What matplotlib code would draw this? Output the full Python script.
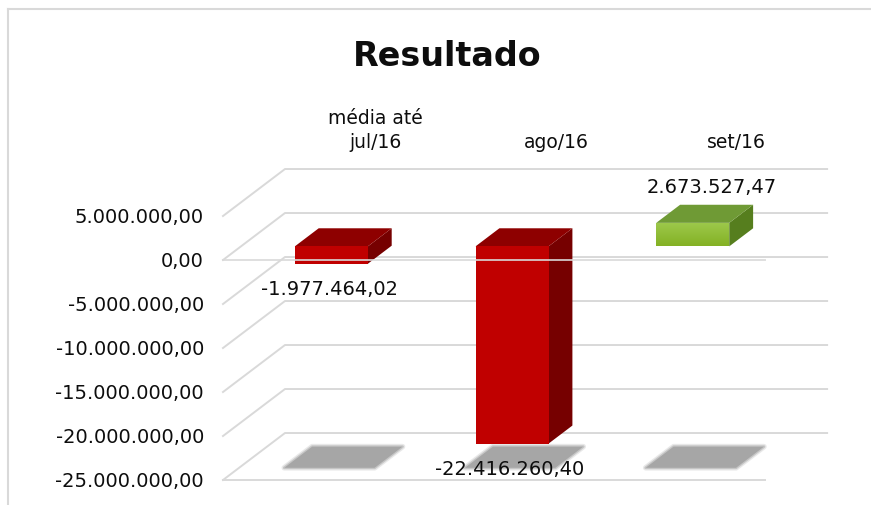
import matplotlib
matplotlib.use('Agg')
import numpy as np
import matplotlib.pyplot as plt
from matplotlib.patches import Polygon
from matplotlib.lines import Line2D
from matplotlib.colors import LinearSegmentedColormap

# ---------------- data ----------------
categories = ['média até\njul/16', 'ago/16', 'set/16']
values = [-1977464.02, -22416260.40, 2673527.47]
value_labels = ['-1.977.464,02', '-22.416.260,40', '2.673.527,47']
ticks = [5e6, 0, -5e6, -10e6, -15e6, -20e6, -25e6]
tick_labels = ['5.000.000,00', '0,00', '-5.000.000,00', '-10.000.000,00',
               '-15.000.000,00', '-20.000.000,00', '-25.000.000,00']
title = 'Resultado'

# ---------------- figure ----------------
W, H = 871, 506
fig = plt.figure(figsize=(W / 100, H / 100), dpi=100)
ax = fig.add_axes([0, 0, 1, 1])
XLIM = (-1.734, 3.086)
YLIM = (-27.84e6, 29.66e6)
ax.set_xlim(*XLIM)
ax.set_ylim(*YLIM)
ax.axis('off')

plt.rcParams['font.family'] = ['DejaVu Sans']
TXT = '#0D0D0D'
GRID = '#D9D9D9'

# pseudo-3D projection: depth d in [0 (front), 1 (back)]
DX = 62 / 180.7
DY = 47 * 5e6 / 44


def P(x, v, d):
    return (x + d * DX, v + d * DY)


n = len(categories)
xl, xr = -0.5, n - 0.5
vmin, vmax = min(ticks), max(ticks)

# walls / gridlines
for t in ticks:
    a = P(xl, t, 0)
    b = P(xl, t, 1)
    c = P(xr, t, 1)
    ax.add_line(Line2D([a[0], b[0], c[0]], [a[1], b[1], c[1]], color=GRID,
                       lw=1.4, solid_joinstyle='round', zorder=1))
# floor front edge
a, b = P(xl, vmin, 0), P(xr, vmin, 0)
ax.add_line(Line2D([a[0], b[0]], [a[1], b[1]], color=GRID, lw=1.4, zorder=1))

# shadows on floor
for i in range(n):
    sh = [P(i - 0.25, vmin, 0.26), P(i + 0.25, vmin, 0.26),
          P(i + 0.25, vmin, 0.71), P(i - 0.25, vmin, 0.71)]
    for lw, al in [(4, 0.25), (2, 0.5)]:
        ax.add_patch(Polygon(sh, closed=True, facecolor='none', edgecolor='#A6A6A6',
                             lw=lw, alpha=al, joinstyle='round', zorder=2))
    ax.add_patch(Polygon(sh, closed=True, facecolor='#A6A6A6', edgecolor='none', zorder=2))

# bars
hw = 0.202
d0, d1 = 0.29, 0.675
grad = np.linspace(0, 1, 64).reshape(-1, 1)
green_cm = LinearSegmentedColormap.from_list('g', ['#84B124', '#9DC94C'])
for i, val in enumerate(values):
    lo, hi = min(0, val), max(0, val)
    x0, x1 = i - hw, i + hw
    if val < 0:
        cf, ct, cs = '#C00000', '#8E0000', '#760000'
    else:
        cf, ct, cs = '#92C03A', '#6F9A35', '#567E1E'
    front = [P(x0, lo, d0), P(x1, lo, d0), P(x1, hi, d0), P(x0, hi, d0)]
    top = [P(x0, hi, d0), P(x1, hi, d0), P(x1, hi, d1), P(x0, hi, d1)]
    side = [P(x1, lo, d0), P(x1, lo, d1), P(x1, hi, d1), P(x1, hi, d0)]
    ax.add_patch(Polygon(side, closed=True, facecolor=cs, edgecolor='none', zorder=3))
    ax.add_patch(Polygon(top, closed=True, facecolor=ct, edgecolor='none', zorder=3))
    fp = Polygon(front, closed=True, facecolor=cf, edgecolor='none', zorder=4)
    ax.add_patch(fp)
    if val > 0:
        ex0, ey0 = P(x0, lo, d0)
        ex1, ey1 = P(x1, hi, d0)
        im = ax.imshow(grad, cmap=green_cm, extent=[ex0, ex1, ey0, ey1], origin='lower',
                       aspect='auto', zorder=4.1, interpolation='bilinear')
        im.set_clip_path(fp)

    # data labels
    if val < 0:
        px, py = P(i, lo, d0)
        ax.annotate(value_labels[i], (px, py), xytext=(-2, -25), textcoords='offset pixels',
                    ha='center', va='center', fontsize=14, color=TXT, zorder=6)
    else:
        px, py = P(i, hi, (d0 + d1) / 2)
        ax.annotate(value_labels[i], (px, py), xytext=(7, 27), textcoords='offset pixels',
                    ha='center', va='center', fontsize=14, color=TXT, zorder=6)

# restore full view limits after imshow
ax.set_xlim(*XLIM)
ax.set_ylim(*YLIM)

# front zero line drawn over bars
a, b = P(xl, 0, 0), P(xr, 0, 0)
ax.add_line(Line2D([a[0], b[0]], [a[1], b[1]], color=GRID, lw=1.4, alpha=0.85, zorder=5))

# y tick labels at front-left edge
for t, lab in zip(ticks, tick_labels):
    px, py = P(xl, t, 0)
    ax.annotate(lab, (px, py), xytext=(-19, 0), textcoords='offset pixels',
                ha='right', va='center', fontsize=14, color=TXT)

# category labels above back wall
for i, cat in enumerate(categories):
    px, py = P(i, vmax, 1)
    ax.annotate(cat, (px, py), xytext=(0, 18), textcoords='offset pixels',
                ha='center', va='bottom', fontsize=13.5, color=TXT, linespacing=1.35)

# title
fig.text(447 / W, 1 - 56 / H, title, ha='center', va='center', fontsize=24,
         fontweight='bold', color=TXT)

# chart border (top and left)
fig.add_artist(Line2D([8 / W, 1], [1 - 10 / H, 1 - 10 / H], color=GRID, lw=1.5,
                      transform=fig.transFigure))
fig.add_artist(Line2D([8 / W, 8 / W], [0, 1 - 10 / H], color=GRID, lw=1.5,
                      transform=fig.transFigure))

fig.savefig('out.png', dpi=100)
